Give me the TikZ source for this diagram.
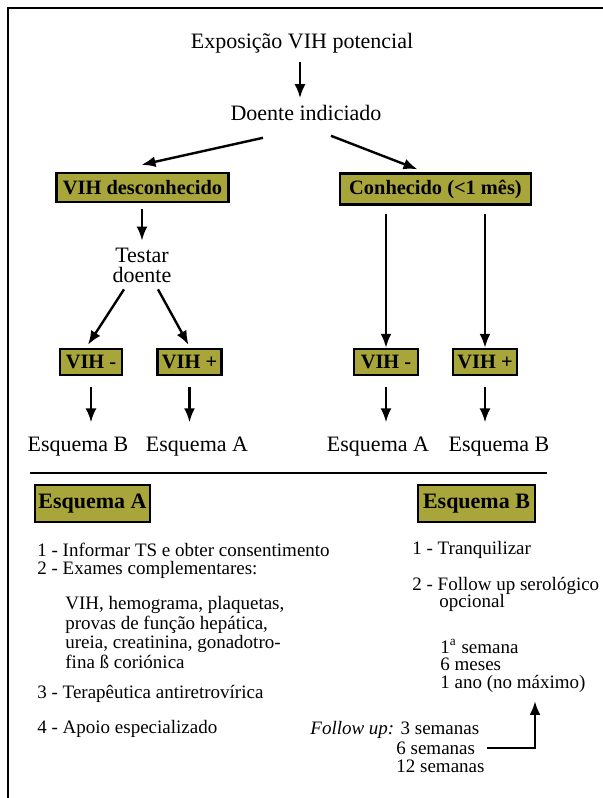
\documentclass[tikz,border=0pt]{standalone}
\usepackage{fontspec}
\setmainfont{Liberation Serif}
\usetikzlibrary{arrows.meta}
\definecolor{olivebox}{RGB}{168,166,58}
\begin{document}
\begin{tikzpicture}[
                    x=0.5pt, y=-0.5pt,
                    font=\fontsize{11}{11}\selectfont,
                    arr/.style={line width=1.2pt, -{Latex[length=7pt,width=5.5pt]}},
                    box/.style={draw, line width=1.2pt, fill=olivebox, font=\fontsize{10.2}{11}\selectfont\bfseries, inner sep=1.5pt},
                    item/.style={anchor=west, inner sep=0pt, font=\fontsize{9.5}{9}\selectfont, align=left}
                ]
                \useasboundingbox (0,0) rectangle (603,798);
                \draw[line width=1.1pt] (8,798) -- (8,8) -- (603,8);

                \node (expo)   at (302,43)  {Exposição VIH potencial};
                \node (doente) at (306,113) {Doente indiciado};

                \node[box, minimum width=86pt, minimum height=14.5pt]   (desc) at (142.5,187.5) {VIH desconhecido};
                \node[box, minimum width=95.5pt, minimum height=15.5pt] (conh) at (435.5,189)   {Conhecido (<1 mês)};

                \node[align=center, font=\fontsize{11}{10}\selectfont] (testar) at (142,265) {Testar\\doente};

                \node[box, minimum width=31pt, minimum height=13pt] (d1) at (91,362)    {VIH -};
                \node[box, minimum width=32pt, minimum height=13pt] (d2) at (189.5,362) {VIH +};
                \node[box, minimum width=32pt, minimum height=13pt] (c1) at (386,362)   {VIH -};
                \node[box, minimum width=32pt, minimum height=13pt] (c2) at (485,362)   {VIH +};

                \node (eB1) at (78,447)  {Esquema B};
                \node (eA1) at (197,447) {Esquema A};
                \node (eA2) at (378,447) {Esquema A};
                \node (eB2) at (499,447) {Esquema B};

                \draw[arr, shorten <=1pt] (expo.south -| 300,0) -- (doente.north -| 300,0);
                \draw[arr] ([xshift=-21.5pt,yshift=-5pt]doente.south) -- ([xshift=-0.5pt,yshift=3.5pt]desc.north);
                \draw[arr] ([xshift=12.5pt,yshift=-4pt]doente.south) -- ([xshift=-9pt,yshift=1.5pt]conh.north);
                \draw[arr, shorten <=3pt] (desc.south -| testar.north) -- (testar.north);
                \draw[arr] ([xshift=-9pt]testar.south) -- ([xshift=-1.5pt,yshift=1.5pt]d1.north);
                \draw[arr] ([xshift=8pt]testar.south) -- ([xshift=-0.5pt,yshift=1.5pt]d2.north);
                \draw[arr, shorten <=4pt] (c1.north |- conh.south) -- (c1.north);
                \draw[arr, shorten <=4pt] (c2.north |- conh.south) -- (c2.north);

                \draw[arr, shorten <=5.5pt, shorten >=4pt] (d1.south) -- (d1.south |- eB1.north);
                \draw[arr, shorten <=5.5pt, shorten >=4pt] (d2.south) -- (d2.south |- eA1.north);
                \draw[arr, shorten <=5.5pt, shorten >=4pt] (c1.south) -- (c1.south |- eA2.north);
                \draw[arr, shorten <=5.5pt, shorten >=4pt] (c2.south) -- (c2.south |- eB2.north);

                \draw[line width=1.4pt] (30,473) -- (547,473);

                \node[box, minimum width=57.5pt, minimum height=18.5pt, font=\fontsize{11}{11}\selectfont\bfseries] (schA) at (92.5,503.5) {Esquema A};
                \node[box, minimum width=58.5pt, minimum height=18.5pt, font=\fontsize{11}{11}\selectfont\bfseries] (schB) at (476.5,503.5) {Esquema B};

                \node[item] (a12) at (37,561) {1 - Informar TS e obter consentimento\\2 - Exames complementares:};
                \node[item, font=\fontsize{9.5}{8.5}\selectfont] (a2d) at (65,632.5) {VIH, hemograma, plaquetas,\\provas de função hepática,\\ureia, creatinina, gonadotro-\\fina ß coriónica};
                \node[item] (a3) at (37,694) {3 - Terapêutica antiretrovírica};
                \node[item] (a4) at (37,729) {4 - Apoio especializado};

                \node[item] (b1) at (412,550) {1 - Tranquilizar};
                \node[item] (b2) at (412,586) {2 - Follow up serológico};
                \node[item] (b2o) at (439,603) {opcional};
                \node[item, font=\fontsize{9.5}{8.8}\selectfont] (ano) at (440,666) {1\textsuperscript{a} semana\\6 meses\\1 ano (no máximo)};

                \node[item] (fu) at (310,730) {\textit{Follow up:} 3 semanas};
                \node[item] (sem6) at (396,748) {6 semanas};
                \node[item] (sem12) at (396,766) {12 semanas};

                \coordinate (turn) at (535,747);
                \draw[line width=1.4pt, -{Latex[length=7pt,width=5.5pt]}, shorten <=6pt] (sem6.east) -| ([yshift=-4pt]ano.south -| turn);

            \end{tikzpicture}
\end{document}
